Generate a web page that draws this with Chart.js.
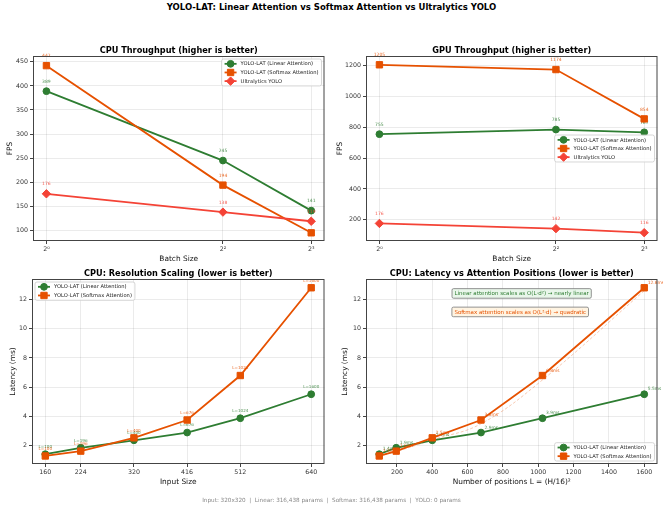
<!DOCTYPE html>
<html>
<head>
<meta charset="utf-8">
<script src="https://cdn.jsdelivr.net/npm/chart.js@4.4.1/dist/chart.umd.min.js"></script>
<style>
  body { margin: 0; background: #fff; width: 663px; height: 508px; position: relative; overflow: hidden; font-family: "DejaVu Sans", sans-serif; }
  canvas { position: absolute; }
  #suptitle { position: absolute; left: 0; top: 2px; width: 663px; text-align: center; font-weight: bold; font-size: 8.5px; color: #000; }
  #footer { position: absolute; left: 0; top: 497px; width: 663px; text-align: center; font-size: 5.7px; color: #888; white-space: pre; }
</style>
</head>
<body>
<div id="suptitle">YOLO-LAT: Linear Attention vs Softmax Attention vs Ultralytics YOLO</div>
<canvas id="cpuThroughput" width="330" height="231" style="left:0;top:40px"></canvas>
<canvas id="gpuThroughput" width="331" height="231" style="left:332px;top:40px"></canvas>
<canvas id="resolutionScaling" width="330" height="232" style="left:0;top:262px"></canvas>
<canvas id="positionScaling" width="331" height="232" style="left:332px;top:262px"></canvas>
<div id="footer">Input: 320x320  |  Linear: 316,438 params  |  Softmax: 316,438 params  |  YOLO: 0 params</div>

<script>
// data
const batchSizes = [1, 4, 8];
const batchTickLabels = ["2⁰", "2²", "2³"];

const cpuFpsLinear = [389, 245, 141];
const cpuFpsSoftmax = [442, 194, 95];
const cpuFpsYolo = [176, 138, 119];
const cpuFpsTicks = [100, 150, 200, 250, 300, 350, 400, 450];

const gpuFpsLinear = [755, 785, 767];
const gpuFpsSoftmax = [1205, 1174, 854];
const gpuFpsYolo = [176, 142, 116];
const gpuFpsTicks = [200, 400, 600, 800, 1000, 1200];

const inputSizes = [160, 224, 320, 416, 512, 640];
const positions = [100, 196, 400, 676, 1024, 1600];
const latencyLinear = [1.42, 1.86, 2.37, 2.9, 3.88, 5.52];
const latencySoftmax = [1.3, 1.63, 2.54, 3.76, 6.8, 12.8];
const softmaxFit = [1.3, 1.6, 2.4, 3.5, 6.5, 12.6];
const latencyTicks = [2, 4, 6, 8, 10, 12];
const positionTicks = [200, 400, 600, 800, 1000, 1200, 1400, 1600];

const notes = [
  "Linear attention scales as O(L·d²) → nearly linear",
  "Softmax attention scales as O(L²·d) → quadratic",
];

const GREEN = "#2e7d32";
const ORANGE = "#e65100";
const RED = "#f44336";
const GRID = "rgba(0, 0, 0, 0.08)";
const FONT = '"DejaVu Sans"';

Chart.defaults.font.family = FONT;
Chart.defaults.color = "#333";

function xy(xs, ys) {
  return xs.map((x, i) => ({ x, y: ys[i] }));
}

function series(label, data, color, pointStyle, radius, order) {
  return {
    label, data, order, pointStyle,
    borderColor: color,
    backgroundColor: color,
    pointBackgroundColor: color,
    pointBorderColor: color,
    pointRadius: radius,
    pointBorderWidth: 1,
    borderWidth: 1.8,
    tension: 0,
  };
}

function buildOptions(o) {
  return {
    animation: false,
    responsive: false,
    layout: { padding: { top: o.padTop, right: o.padRight, left: 0, bottom: 0 } },
    plugins: { legend: { display: false }, tooltip: { enabled: false } },
    scales: {
      x: {
        type: o.xType,
        min: o.xMin,
        max: o.xMax,
        afterBuildTicks: (s) => { s.ticks = o.xTicks.map((v) => ({ value: v })); },
        afterFit: (s) => { s.height = 30; },
        ticks: {
          callback: (v, i) => (o.xLabels ? o.xLabels[i] : String(v)),
          maxRotation: 0, autoSkip: false, padding: 1.5, color: "#333", font: { size: 6.3 },
        },
        grid: { color: GRID, tickColor: "#444", tickLength: 3 },
        border: { display: false },
        title: { display: true, text: o.xTitle, color: "#111", font: { size: 7.4 }, padding: { top: 0, bottom: 7.6 } },
      },
      y: {
        type: "linear",
        min: o.yMin,
        max: o.yMax,
        afterBuildTicks: (s) => { s.ticks = o.yTicks.map((v) => ({ value: v })); },
        afterFit: (s) => { s.width = o.yWidth; },
        ticks: { callback: (v) => String(v), padding: 2, color: "#333", font: { size: 6.3 } },
        grid: { color: GRID, tickColor: "#444", tickLength: 3 },
        border: { display: false },
        title: { display: true, text: o.yTitle, color: "#111", font: { size: 7.4 }, padding: { top: o.yTitlePad, bottom: 0 } },
      },
    },
  };
}

function drawMarker(ctx, style, r, x, y) {
  ctx.beginPath();
  if (style === "circle") {
    ctx.arc(x, y, r, 0, Math.PI * 2);
  } else if (style === "rect") {
    const s = r * Math.SQRT1_2;
    ctx.rect(x - s, y - s, 2 * s, 2 * s);
  } else {
    ctx.moveTo(x, y - r); ctx.lineTo(x + r, y); ctx.lineTo(x, y + r); ctx.lineTo(x - r, y);
    ctx.closePath();
  }
  ctx.fill();
  ctx.stroke();
}

function roundRect(ctx, x, y, w, h, r) {
  ctx.beginPath();
  ctx.moveTo(x + r, y);
  ctx.arcTo(x + w, y, x + w, y + h, r);
  ctx.arcTo(x + w, y + h, x, y + h, r);
  ctx.arcTo(x, y + h, x, y, r);
  ctx.arcTo(x, y, x + w, y, r);
  ctx.closePath();
}

function drawLegend(chart, corner) {
  const { ctx, chartArea: a } = chart;
  const items = chart.data.datasets.filter((d) => !d.noLegend);
  ctx.font = `5.2px ${FONT}`;
  const textW = Math.max(...items.map((d) => ctx.measureText(d.label).width));
  const rowH = 8.65, padX = 3, handle = 12, gap = 4, inset = 3;
  const w = padX + handle + gap + textW + padX;
  const h = rowH * items.length + 1;
  const x = corner.includes("e") ? a.right - inset - w : a.left + inset;
  let y = (a.top + a.bottom) / 2 - h / 2;
  if (corner.startsWith("n")) y = a.top + inset;
  if (corner.startsWith("s")) y = a.bottom - inset - h;

  roundRect(ctx, x, y, w, h, 2);
  ctx.fillStyle = "rgba(255,255,255,0.85)";
  ctx.fill();
  ctx.strokeStyle = "#cccccc";
  ctx.lineWidth = 0.8;
  ctx.stroke();

  items.forEach((d, i) => {
    const cy = y + 0.5 + rowH * (i + 0.5);
    ctx.strokeStyle = d.borderColor;
    ctx.fillStyle = d.borderColor;
    ctx.lineWidth = d.borderWidth;
    ctx.beginPath();
    ctx.moveTo(x + padX, cy);
    ctx.lineTo(x + padX + handle, cy);
    ctx.stroke();
    ctx.lineWidth = 1;
    drawMarker(ctx, d.pointStyle, d.pointRadius, x + padX + handle / 2, cy);
    ctx.fillStyle = "#222";
    ctx.textAlign = "left";
    ctx.textBaseline = "middle";
    ctx.fillText(d.label, x + padX + handle + gap, cy + 0.3);
  });
}

function drawNote(ctx, a, note) {
  ctx.font = `5.5px ${FONT}`;
  const tw = ctx.measureText(note.text).width;
  const cx = a.left + note.fx * (a.right - a.left);
  const cy = a.top + note.fy * (a.bottom - a.top);
  roundRect(ctx, cx - tw / 2 - 2.5, cy - 4.8, tw + 5, 9.6, 1.5);
  ctx.fillStyle = note.bg;
  ctx.fill();
  ctx.strokeStyle = "#777";
  ctx.lineWidth = 0.8;
  ctx.stroke();
  ctx.fillStyle = note.color;
  ctx.textAlign = "center";
  ctx.textBaseline = "middle";
  ctx.fillText(note.text, cx, cy + 0.3);
}

function makeDecor(cfg) {
  return {
    id: "decor",
    afterDatasetDraw(chart, args) {
      const ds = chart.data.datasets[args.index];
      if (ds.noLabels) return;
      const pl = cfg.pointLabel;
      const ctx = chart.ctx;
      ctx.save();
      ctx.font = `${pl.size}px ${FONT}`;
      ctx.fillStyle = ds.borderColor;
      ctx.globalAlpha = 0.85;
      ctx.textAlign = pl.align;
      ctx.textBaseline = "middle";
      args.meta.data.forEach((pt, i) => {
        ctx.fillText(pl.text(ds.data[i].y, i), pt.x + pl.dx, pt.y + pl.dy);
      });
      ctx.restore();
    },
    afterDraw(chart) {
      const { ctx, chartArea: a } = chart;
      ctx.save();
      ctx.strokeStyle = "#444";
      ctx.lineWidth = 1;
      ctx.strokeRect(a.left + 0.5, a.top + 0.5, a.right - a.left - 1, a.bottom - a.top - 1);

      ctx.font = `bold 8.2px ${FONT}`;
      ctx.fillStyle = "#000";
      ctx.textAlign = "center";
      ctx.textBaseline = "middle";
      ctx.fillText(cfg.title, (a.left + a.right) / 2, a.top - 4.8);

      (cfg.notes || []).forEach((n) => drawNote(ctx, a, n));
      drawLegend(chart, cfg.legend);
      ctx.restore();
    },
  };
}

const fpsLabel = { size: 4.5, dx: 0, dy: -9.5, align: "center", text: (v) => String(Math.round(v)) };

// CPU throughput
new Chart(document.getElementById("cpuThroughput"), {
  type: "line",
  data: {
    datasets: [
      series("YOLO-LAT (Linear Attention)", xy(batchSizes, cpuFpsLinear), GREEN, "circle", 3.4, 2),
      series("YOLO-LAT (Softmax Attention)", xy(batchSizes, cpuFpsSoftmax), ORANGE, "rect", 4.5, 1),
      series("Ultralytics YOLO", xy(batchSizes, cpuFpsYolo), RED, "rectRot", 4.2, 0),
    ],
  },
  options: buildOptions({
    xType: "logarithmic", xMin: 0.9, xMax: 8.88, xTicks: batchSizes, xLabels: batchTickLabels, xTitle: "Batch Size",
    yMin: 78, yMax: 462, yTicks: cpuFpsTicks, yTitle: "FPS",
    padTop: 16, padRight: 5, yWidth: 33, yTitlePad: 5.6,
  }),
  plugins: [makeDecor({ title: "CPU Throughput (higher is better)", legend: "ne", pointLabel: fpsLabel })],
});

// GPU throughput
new Chart(document.getElementById("gpuThroughput"), {
  type: "line",
  data: {
    datasets: [
      series("YOLO-LAT (Linear Attention)", xy(batchSizes, gpuFpsLinear), GREEN, "circle", 3.4, 2),
      series("YOLO-LAT (Softmax Attention)", xy(batchSizes, gpuFpsSoftmax), ORANGE, "rect", 4.5, 1),
      series("Ultralytics YOLO", xy(batchSizes, gpuFpsYolo), RED, "rectRot", 4.2, 0),
    ],
  },
  options: buildOptions({
    xType: "logarithmic", xMin: 0.9, xMax: 8.88, xTicks: batchSizes, xLabels: batchTickLabels, xTitle: "Batch Size",
    yMin: 62, yMax: 1262, yTicks: gpuFpsTicks, yTitle: "FPS",
    padTop: 16, padRight: 2, yWidth: 34, yTitlePad: 3.6,
  }),
  plugins: [makeDecor({ title: "GPU Throughput (higher is better)", legend: "e", pointLabel: fpsLabel })],
});

// CPU latency vs input resolution
new Chart(document.getElementById("resolutionScaling"), {
  type: "line",
  data: {
    datasets: [
      series("YOLO-LAT (Linear Attention)", xy(inputSizes, latencyLinear), GREEN, "circle", 3.4, 2),
      series("YOLO-LAT (Softmax Attention)", xy(inputSizes, latencySoftmax), ORANGE, "rect", 4.5, 1),
    ],
  },
  options: buildOptions({
    xType: "linear", xMin: 136, xMax: 664, xTicks: inputSizes, xTitle: "Input Size",
    yMin: 0.75, yMax: 13.4, yTicks: latencyTicks, yTitle: "Latency (ms)",
    padTop: 17, padRight: 2, yWidth: 32, yTitlePad: 8.9,
  }),
  plugins: [makeDecor({
    title: "CPU: Resolution Scaling (lower is better)", legend: "nw",
    pointLabel: { size: 4.1, dx: 0, dy: -7.3, align: "center", text: (v, i) => "L=" + positions[i] },
  })],
});

// CPU latency vs number of attention positions
const fitSeries = {
  label: "fit", data: xy(positions, softmaxFit), order: 3, noLegend: true, noLabels: true,
  borderColor: "rgba(230, 81, 0, 0.3)", borderWidth: 1, borderDash: [3, 2], pointRadius: 0, tension: 0.4,
};

new Chart(document.getElementById("positionScaling"), {
  type: "line",
  data: {
    datasets: [
      series("YOLO-LAT (Linear Attention)", xy(positions, latencyLinear), GREEN, "circle", 3.4, 2),
      series("YOLO-LAT (Softmax Attention)", xy(positions, latencySoftmax), ORANGE, "rect", 4.5, 1),
      fitSeries,
    ],
  },
  options: buildOptions({
    xType: "linear", xMin: 25, xMax: 1675, xTicks: positionTicks, xTitle: "Number of positions L = (H/16)²",
    yMin: 0.75, yMax: 13.4, yTicks: latencyTicks, yTitle: "Latency (ms)",
    padTop: 17, padRight: 2, yWidth: 34, yTitlePad: 8.6,
  }),
  plugins: [makeDecor({
    title: "CPU: Latency vs Attention Positions (lower is better)", legend: "se",
    pointLabel: { size: 4.4, dx: 3.5, dy: -5, align: "left", text: (v) => v.toFixed(1) + "ms" },
    notes: [
      { text: notes[0], fx: 0.534, fy: 0.078, color: GREEN, bg: "rgba(232, 245, 233, 0.95)" },
      { text: notes[1], fx: 0.529, fy: 0.178, color: ORANGE, bg: "rgba(255, 243, 224, 0.95)" },
    ],
  })],
});
</script>
</body>
</html>
